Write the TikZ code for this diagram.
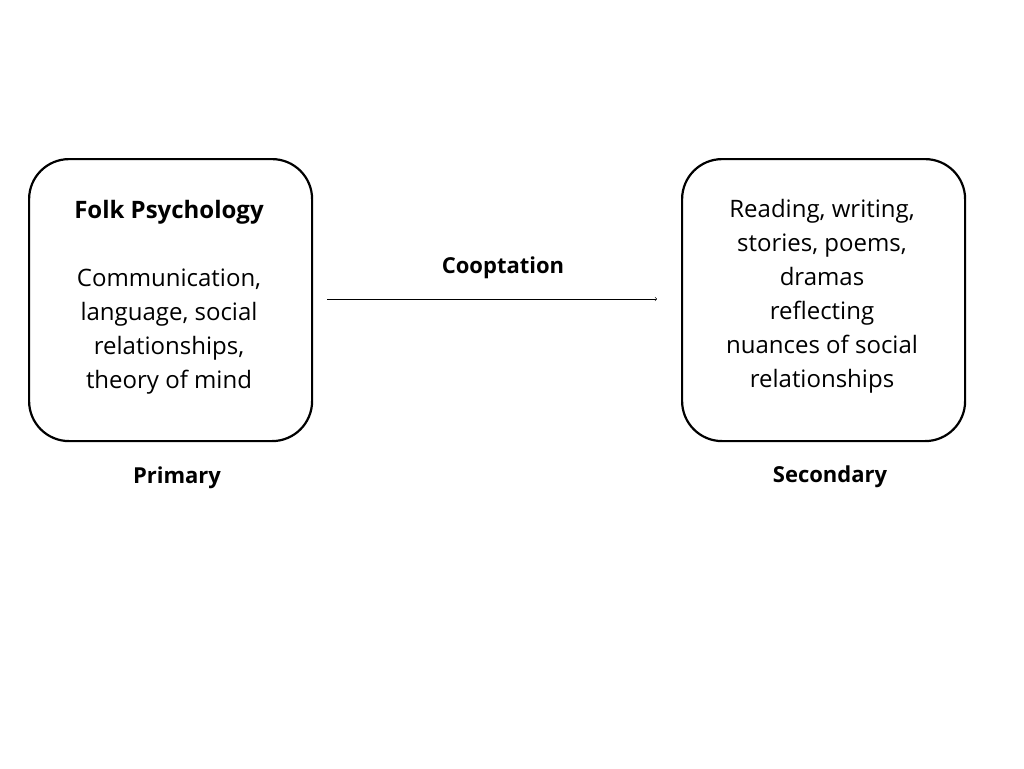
\documentclass[tikz,border=0pt]{standalone}
\usepackage{fontspec}
\setmainfont{Open Sans}
\begin{document}
\begin{tikzpicture}[x=1pt,y=-1pt,
  box/.style={draw,line width=2.2pt,rounded corners=40pt,minimum width=283pt,minimum height=282pt,anchor=north west},
  txt/.style={align=center,font=\fontsize{24}{34}\selectfont},
  lbl/.style={font=\fontsize{22}{28}\selectfont\bfseries}]
\useasboundingbox (0,0) rectangle (1024,768);
\node[box] (b1) at (28,158) {};
\node[box] (b2) at (681,158) {};
\node[txt,anchor=north] (t1) at (169,197) {\textbf{Folk Psychology}\\[34pt]Communication,\\language, social\\relationships,\\theory of mind};
\node[txt,anchor=north] (t2) at (822,196) {Reading, writing,\\stories, poems,\\dramas\\reflecting\\nuances of social\\relationships};
\coordinate (a1) at (327,299);
\coordinate (a2) at (657,299);
\draw[->,line width=0.6pt] (a1) -- (a2);
\node[lbl] (c) at (503,268) {Cooptation};
\node[lbl] (p) at (177,478) {Primary};
\node[lbl] (s) at (830,477) {Secondary};
\end{tikzpicture}
\end{document}
